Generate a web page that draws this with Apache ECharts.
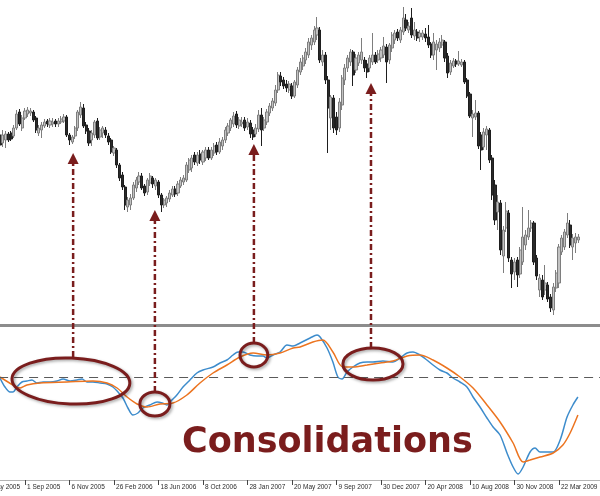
<!DOCTYPE html>
<html>
<head>
<meta charset="utf-8">
<script src="https://cdn.jsdelivr.net/npm/echarts@6/dist/echarts.min.js"></script>
<style>
html,body{margin:0;padding:0;background:#fff;}
#main{width:600px;height:496px;}
</style>
</head>
<body>
<div id="main"></div>
<script>
// ---- data ----
const barCount = 233;          // weekly bars on the axis (some off-screen to the left)
const firstBar = 16;           // index of the first candle in ohlc
// weekly candles: [open, close, low, high]
const ohlc = [
[190,180,177,193],[182,190,178,195],[185,191,177,194],[191,185,183,193],[192,186,184,194],
[189,197,187,200],[197,211,195,215],[213,201,199,216],[197,207,194,210],[207,214,205,217],
[211,215,208,218],[212,214,209,217],[213,205,203,215],[207,195,192,209],[192,197,189,200],
[195,200,187,203],[199,203,197,206],[204,201,198,206],[200,204,197,207],[201,203,198,207],
[204,201,198,206],[201,204,198,207],[203,206,201,209],[204,208,202,211],[208,190,188,210],
[190,185,180,192],[183,188,181,190],[189,197,186,199],[197,213,194,215],[210,218,207,223],
[217,199,197,221],[200,194,191,203],[194,182,179,197],[185,192,179,195],[190,203,187,205],
[204,187,185,207],[188,195,185,198],[192,197,187,199],[195,190,187,198],[189,183,180,192],
[185,173,171,187],[172,177,169,179],[175,160,157,177],[160,147,144,162],[150,138,135,153],
[138,120,115,140],[118,125,113,128],[120,127,115,131],[127,140,125,143],[137,145,133,148],
[143,149,140,153],[149,137,135,152],[139,132,129,141],[133,145,130,147],[142,149,139,152],
[147,141,137,149],[139,145,135,147],[143,130,127,145],[130,120,113,132],[120,125,117,127],
[122,127,118,129],[126,132,123,135],[130,136,128,139],[136,131,128,139],[132,141,129,144],
[139,145,137,148],[143,147,140,150],[145,160,143,163],[155,165,152,167],[157,167,153,170],
[170,163,160,173],[162,170,159,173],[171,165,161,175],[163,173,160,175],[167,175,164,178],
[175,167,165,178],[167,175,165,178],[172,179,169,182],[180,173,170,183],[173,183,171,187],
[179,185,175,188],[185,195,182,198],[192,199,189,202],[197,205,194,207],[201,209,198,213],
[211,200,197,214],[199,205,196,208],[201,203,198,208],[205,197,194,208],[198,203,195,207],
[202,191,187,205],[195,188,185,198],[191,197,188,201],[196,210,193,215],[210,195,179,217],
[197,205,194,208],[203,213,200,216],[212,219,209,222],[217,224,214,227],[222,235,219,240],
[235,250,232,253],[249,243,239,253],[245,239,236,248],[241,237,233,245],[235,241,232,244],
[239,229,226,242],[229,243,227,245],[240,255,237,258],[253,263,250,267],[259,267,255,270],
[265,273,261,277],[270,283,267,287],[280,287,275,290],[283,295,280,299],[290,297,285,308],
[295,265,262,298],[263,270,259,275],[270,245,241,273],[245,217,172,249],[207,228,195,230],
[227,197,192,230],[208,195,190,213],[197,223,193,227],[220,247,215,250],[245,257,240,261],
[257,267,253,270],[263,273,259,276],[273,250,239,275],[255,267,252,271],[262,270,259,273],
[265,273,261,287],[265,257,253,268],[261,253,247,265],[257,267,253,270],[263,270,260,292],
[270,263,261,273],[265,271,262,275],[267,275,263,278],[270,279,267,288],[278,263,242,281],
[265,280,261,282],[277,290,273,293],[285,292,281,295],[293,287,284,296],[285,295,282,298],
[293,307,290,318],[305,297,294,311],[295,299,292,303],[307,290,287,317],[289,295,285,303],
[293,287,284,296],[288,292,283,295],[288,292,285,295],[291,287,283,297],[288,280,277,300],
[281,270,267,283],[270,283,265,292],[275,281,255,285],[277,283,273,287],[280,285,277,290],
[283,267,263,285],[269,252,247,272],[253,262,250,265],[259,264,257,267],[264,261,258,266],
[261,264,259,274],[260,263,258,266],[263,243,241,265],[245,229,227,247],[231,209,207,233],
[207,211,188,215],[208,212,205,225],[212,179,176,214],[190,175,155,193],[178,193,175,197],
[190,196,175,199],[195,165,162,197],[167,130,125,170],[140,105,100,145],[113,123,95,130],
[122,75,70,125],[69,95,52,99],[97,114,93,123],[112,67,63,115],[65,51,37,68],
[53,63,45,67],[65,50,38,68],[51,75,47,78],[63,88,60,118],[80,90,75,95],
[88,97,85,115],[97,102,93,105],[102,63,60,104],[67,49,45,70],[35,47,28,51],
[45,28,25,50],[35,42,30,60],[40,26,23,43],[28,17,13,31],[15,38,10,42],
[37,52,33,55],[42,78,37,81],[73,87,70,90],[78,93,75,96],[90,102,87,112],
[100,80,77,105],[78,87,65,91],[82,88,72,92],[85,88,82,91]
];
// oscillator lines: bar position and value
const blueBars = [16.0,17.8,19.6,20.7,22.1,23.9,25.7,27.5,29.3,31.5,34.0,36.5,38.7,41.2,43.7,45.5,47.3,49.4,52.0,54.5,56.6,58.4,60.2,62.0,63.8,65.6,67.4,69.9,72.5,74.3,76.0,77.8,79.6,81.8,84.3,86.8,89.0,92.6,95.1,97.6,99.8,101.6,103.4,105.9,108.4,110.6,112.0,114.2,116.7,119.2,121.4,123.9,127.5,130.0,131.1,133.6,135.7,137.5,139.0,140.8,142.9,145.4,148.0,150.1,153.7,157.3,159.8,162.4,164.5,167.0,169.5,171.7,174.2,176.7,178.9,181.4,183.9,186.1,188.6,191.1,193.3,195.8,198.3,200.5,202.3,204.1,206.6,208.4,210.2,212.7,214.9,217.4,219.9,222.0,223.8];
const blueVals = [-1,-10,-15,-15,-10,-5,-4,-3,-6,-5,-5,-4,-2,-4,-3,-2,-5,-5,-6,-7,-10,-15,-21,-31,-38,-36,-31,-28,-25,-26,-28,-23,-18,-10,-3,4,7,10,14,17,22,25,25,22,21,21,19,22,25,32,31,34,39,42,40,29,15,0,-2,5,10,14,15,15,16,15,19,24,25,22,17,12,7,4,-1,-5,-10,-20,-30,-41,-50,-58,-76,-90,-97,-90,-75,-71,-75,-75,-75,-63,-40,-28,-20];
const orangeBars = [16.0,20.7,23.2,25.7,30.4,40.1,49.4,54.5,58.1,61.7,65.3,68.9,73.5,78.2,83.2,87.9,92.6,97.6,102.3,107.0,112.0,116.7,121.4,123.9,128.5,132.1,135.7,139.3,142.9,148.0,152.6,157.3,162.4,167.0,171.7,176.7,181.4,186.1,191.1,195.8,200.5,204.1,206.6,210.2,214.9,218.4,221.0,223.8];
const orangeVals = [0,-8,-11,-8,-6,-5,-4,-6,-11,-20,-27,-30,-27,-26,-18,-6,4,12,20,24,22,24,29,30,35,37,25,10,10,12,14,16,21,22,17,9,0,-11,-28,-45,-66,-85,-83,-80,-76,-68,-56,-38];
// date axis
const tickBars = [9,25,41,57,73,89,105,121,137,153,169,185,201,217];
const tickLabels = ['12 May 2005','1 Sep 2005','6 Nov 2005','26 Feb 2006','18 Jun 2006','8 Oct 2006','28 Jan 2007','20 May 2007','9 Sep 2007','30 Dec 2007','20 Apr 2008','10 Aug 2008','30 Nov 2008','22 Mar 2009'];
// annotations (bar position, price in top panel, oscillator value in bottom panel)
const arrowBars = [42.3, 71.7, 107.3, 149.4];
const arrowTipPrice = [172, 115, 181, 242];
const arrowFootValue = [20, -15, 34, 29];
const ellipseBars = [41.5, 71.7, 107.3, 150.1];
const ellipseValues = [-4, -27, 22, 13];
const ellipseHalfBars = [21.2, 5.4, 5.0, 10.8];
const ellipseHalfValues = [23, 12, 12, 16];
const caption = 'Consolidations';

// ---- build ----
const cats = [];
const candleData = [];
for (let i = 0; i < barCount; i++) {
  cats.push(String(i));
  const k = i - firstBar;
  candleData.push(k >= 0 && k < ohlc.length ? ohlc[k] : '-');
}
const RED = '#7a1d1d';
const chart = echarts.init(document.getElementById('main'), null, {renderer: 'canvas'});
const gridLeft = -45.9, gridWidth = 648;
chart.setOption({
  animation: false,
  backgroundColor: '#ffffff',
  grid: [
    {left: gridLeft, top: 0, width: gridWidth, height: 325, containLabel: false, outerBoundsMode: 'none'},
    {left: gridLeft, top: 330, width: gridWidth, height: 150, containLabel: false, outerBoundsMode: 'none'}
  ],
  xAxis: [
    {type: 'category', gridIndex: 0, data: cats, boundaryGap: true,
     axisLine: {show: true, onZero: false, lineStyle: {color: '#8c8c8c', width: 3}},
     axisTick: {show: false}, axisLabel: {show: false}, splitLine: {show: false}},
    {type: 'value', gridIndex: 1, min: -0.5, max: barCount - 0.5,
     axisLine: {show: true, onZero: false, lineStyle: {color: '#b4b4b4', width: 1}},
     axisTick: {show: true, customValues: tickBars, length: 5, lineStyle: {color: '#444'}},
     axisLabel: {show: true, customValues: tickBars, hideOverlap: false, showMinLabel: true,
       formatter: v => { const j = tickBars.indexOf(Math.round(v)); return j >= 0 ? tickLabels[j] : ''; },
       align: 'left', margin: 4, padding: [0, 0, 0, 2], fontSize: 6.5, color: '#2a2a2a',
       fontFamily: 'Liberation Sans'},
     splitLine: {show: false}}
  ],
  yAxis: [
    {type: 'value', gridIndex: 0, min: 0, max: 325, show: false},
    {type: 'value', gridIndex: 1, min: -103, max: 47, show: false}
  ],
  series: [
    {type: 'candlestick', xAxisIndex: 0, yAxisIndex: 0, data: candleData, barWidth: 2.6,
     itemStyle: {color: '#c2c2c2', color0: '#2a2a2a', borderColor: '#7e7e7e', borderColor0: '#1e1e1e', borderWidth: 1}},
    {type: 'line', xAxisIndex: 1, yAxisIndex: 1, showSymbol: false, smooth: 0.3,
     data: blueBars.map((b, k) => [b, blueVals[k]]),
     lineStyle: {color: '#3d8ccc', width: 1.5},
     markLine: {silent: true, symbol: 'none', label: {show: false},
       lineStyle: {type: [9, 6], color: '#5a5a5a', width: 1}, data: [{yAxis: 0}]}},
    {type: 'line', xAxisIndex: 1, yAxisIndex: 1, showSymbol: false, smooth: 0.3,
     data: orangeBars.map((b, k) => [b, orangeVals[k]]),
     lineStyle: {color: '#ec7420', width: 1.5}}
  ]
});

// annotations placed through the axes
const gx = v => chart.convertToPixel({xAxisIndex: 1}, v);
const gyTop = v => chart.convertToPixel({yAxisIndex: 0}, v);
const gyBot = v => chart.convertToPixel({yAxisIndex: 1}, v);
const elements = [];
for (let k = 0; k < ellipseBars.length; k++) {
  const cx = gx(ellipseBars[k]), cy = gyBot(ellipseValues[k]);
  const rx = gx(ellipseBars[k] + ellipseHalfBars[k]) - cx;
  const ry = gyBot(ellipseValues[k] - ellipseHalfValues[k]) - cy;
  elements.push({type: 'ellipse', z: 20, shape: {cx: cx, cy: cy, rx: rx, ry: ry},
    rotation: k === 0 ? -0.04 : 0, originX: cx, originY: cy,
    style: {fill: 'transparent', stroke: RED, lineWidth: 3,
      shadowBlur: 3, shadowColor: 'rgba(0,0,0,0.35)', shadowOffsetX: 1.5, shadowOffsetY: 1.5}});
}
for (let k = 0; k < arrowBars.length; k++) {
  const x = gx(arrowBars[k]);
  const yTip = gyTop(arrowTipPrice[k]);
  const yFoot = gyBot(arrowFootValue[k]);
  elements.push({type: 'line', z: 20, shape: {x1: x, y1: yFoot, x2: x, y2: yTip + 10},
    style: {stroke: RED, lineWidth: 2.5, lineDash: [6, 3, 2, 3]}});
  elements.push({type: 'polygon', z: 21, shape: {points: [[x, yTip], [x - 5.5, yTip + 11], [x + 5.5, yTip + 11]]},
    style: {fill: RED}});
}
elements.push({type: 'text', z: 22, x: 182, y: 443,
  style: {text: caption, fontFamily: 'DejaVu Sans', fontWeight: 'bold', fontSize: 35,
    fill: RED, align: 'left', verticalAlign: 'middle'}});
chart.setOption({graphic: {elements: elements}});
</script>
</body>
</html>
